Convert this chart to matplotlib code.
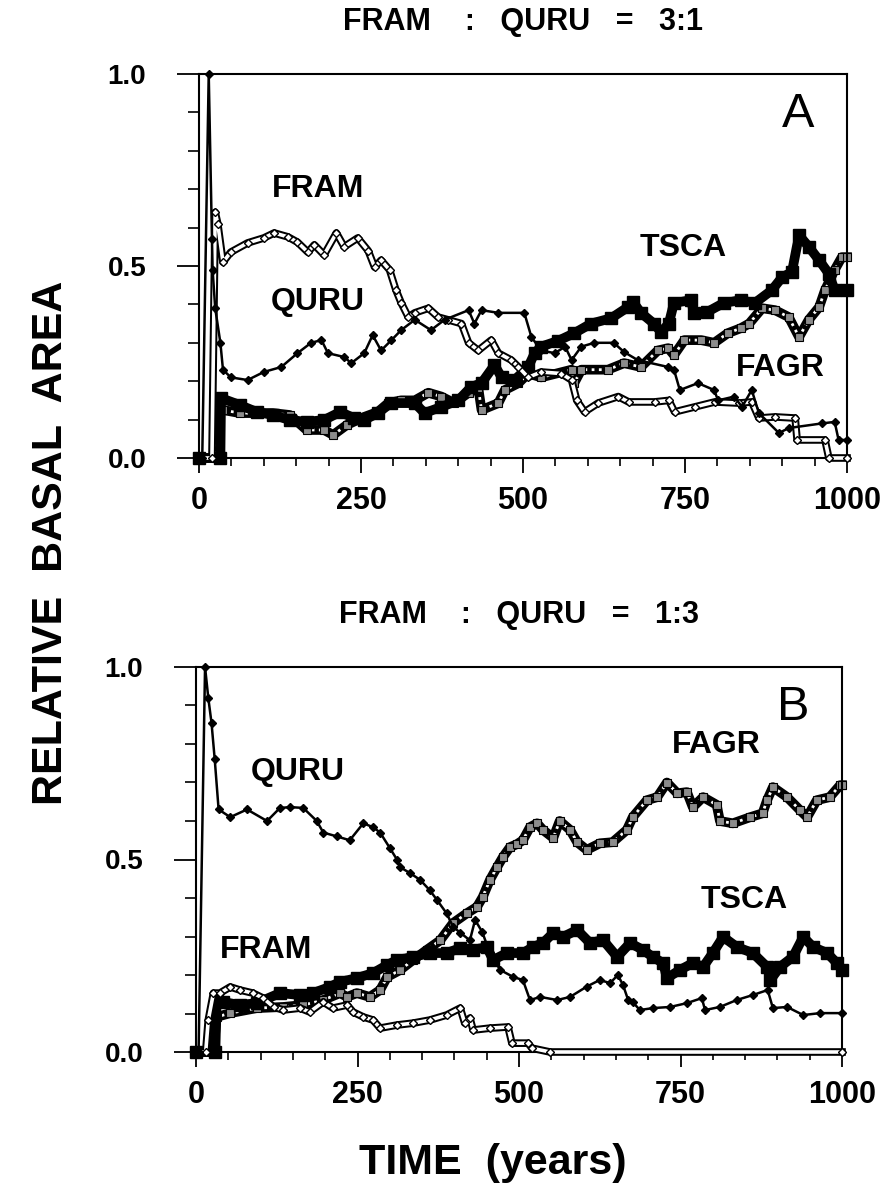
import matplotlib
matplotlib.use("Agg")
import matplotlib.pyplot as plt
from matplotlib.ticker import MultipleLocator, FormatStrFormatter

plt.rcParams['font.family'] = ['Liberation Sans', 'DejaVu Sans']
plt.rcParams['font.weight'] = 'bold'

# ---- panel A : FRAM : QURU = 3:1 ----
a_fram_t = [0, 20, 25, 29, 37, 49, 75, 100, 116, 137, 152, 168, 178, 193, 212, 224, 245, 261, 271, 281,
            294, 304, 312, 323, 333, 354, 369, 384, 405, 416, 431, 451, 462, 482, 493, 508, 528, 559, 575, 583,
            595, 616, 647, 663, 703, 725, 734, 765, 796, 833, 853, 864, 889, 920, 923, 966, 972, 1000]
a_fram_y = [0, 0, 0.64, 0.61, 0.51, 0.536, 0.56, 0.573, 0.586, 0.576, 0.562, 0.536, 0.555, 0.529, 0.586,
            0.55, 0.573, 0.54, 0.497, 0.515, 0.49, 0.437, 0.404, 0.367, 0.378, 0.39, 0.367, 0.36, 0.35, 0.30,
            0.28, 0.307, 0.273, 0.255, 0.237, 0.21, 0.224, 0.22, 0.203, 0.15, 0.12, 0.143, 0.16, 0.146, 0.146,
            0.15, 0.12, 0.133, 0.146, 0.143, 0.146, 0.104, 0.107, 0.104, 0.047, 0.047, 0.0, 0.0]

a_quru_t = [0, 5, 15, 20, 21, 25, 33, 37, 49, 75, 100, 127, 152, 173, 189, 199, 224, 235, 255, 268,
            281, 297, 312, 333, 358, 379, 416, 425, 436, 462, 502, 513, 528, 549, 565, 575, 590, 610, 640, 656,
            677, 724, 733, 742, 770, 795, 801, 826, 838, 853, 864, 895, 910, 961, 981, 987, 1000]
a_quru_y = [0, 0, 1.0, 0.57, 0.49, 0.39, 0.30, 0.23, 0.21, 0.203, 0.224, 0.237, 0.273, 0.30, 0.307,
            0.273, 0.263, 0.247, 0.273, 0.32, 0.28, 0.307, 0.333, 0.36, 0.333, 0.36, 0.385, 0.35, 0.385, 0.378,
            0.378, 0.315, 0.28, 0.273, 0.29, 0.255, 0.29, 0.30, 0.30, 0.276, 0.255, 0.237, 0.23, 0.177, 0.195,
            0.177, 0.15, 0.16, 0.133, 0.177, 0.117, 0.065, 0.078, 0.09, 0.094, 0.047, 0.047]

a_tsca_t = [0, 33, 34, 63, 89, 114, 140, 166, 193, 218, 239, 255, 276, 296, 333, 348, 374, 400, 420, 436,
            456, 467, 487, 508, 518, 528, 554, 579, 605, 636, 662, 670, 682, 702, 713, 725, 733, 759, 764, 784,
            810, 836, 858, 884, 900, 915, 926, 941, 957, 972, 981, 1000]
a_tsca_y = [0, 0, 0.156, 0.138, 0.12, 0.112, 0.099, 0.094, 0.099, 0.12, 0.104, 0.099, 0.117, 0.143, 0.143,
            0.117, 0.133, 0.15, 0.185, 0.195, 0.242, 0.21, 0.203, 0.237, 0.273, 0.29, 0.305, 0.325, 0.35, 0.364,
            0.393, 0.406, 0.378, 0.35, 0.328, 0.35, 0.404, 0.411, 0.378, 0.38, 0.404, 0.411, 0.404, 0.437,
            0.471, 0.484, 0.58, 0.55, 0.515, 0.48, 0.437, 0.437]

a_fagr_t = [0, 27, 28, 37, 63, 114, 140, 166, 193, 207, 228, 255, 276, 292, 312, 333, 354, 374, 394, 416,
            431, 436, 462, 472, 493, 508, 528, 575, 579, 590, 631, 656, 682, 708, 724, 733, 749, 775, 795, 816,
            836, 849, 869, 889, 910, 926, 941, 957, 966, 981, 992, 1000]
a_fagr_y = [0, 0, 0.125, 0.125, 0.117, 0.117, 0.112, 0.073, 0.073, 0.06, 0.086, 0.107, 0.12, 0.143, 0.15,
            0.15, 0.17, 0.16, 0.143, 0.17, 0.182, 0.125, 0.143, 0.177, 0.195, 0.22, 0.21, 0.23, 0.195, 0.23,
            0.23, 0.247, 0.237, 0.28, 0.286, 0.268, 0.307, 0.307, 0.30, 0.325, 0.338, 0.35, 0.39, 0.385, 0.367,
            0.315, 0.36, 0.393, 0.437, 0.49, 0.523, 0.523]

# ---- panel B : FRAM : QURU = 1:3 ----
b_fram_t = [0, 15, 19, 27, 37, 53, 68, 88, 104, 120, 135, 161, 176, 197, 212, 234, 243, 259, 274, 285,
            311, 336, 362, 388, 409, 416, 424, 429, 455, 483, 489, 514, 520, 548, 1000]
b_fram_y = [0, 0, 0.083, 0.153, 0.153, 0.169, 0.161, 0.153, 0.14, 0.117, 0.109, 0.114, 0.104, 0.13, 0.114,
            0.122, 0.104, 0.091, 0.083, 0.062, 0.07, 0.075, 0.083, 0.096, 0.114, 0.075, 0.088, 0.057, 0.062,
            0.065, 0.023, 0.023, 0.01, 0.0, 0.0]

b_quru_t = [0, 4, 14, 19, 24, 29, 35, 53, 79, 110, 130, 146, 166, 187, 197, 218, 238, 259, 274, 285,
            300, 311, 316, 331, 347, 362, 373, 388, 398, 409, 424, 432, 443, 455, 471, 491, 506, 517, 533, 559,
            579, 605, 625, 641, 653, 661, 669, 676, 687, 707, 734, 760, 783, 788, 811, 837, 862, 885, 893, 915,
            940, 966, 1000]
b_quru_y = [0, 0, 1.0, 0.92, 0.855, 0.76, 0.63, 0.61, 0.63, 0.60, 0.634, 0.636, 0.634, 0.60, 0.57, 0.56,
            0.55, 0.594, 0.584, 0.57, 0.53, 0.50, 0.48, 0.465, 0.447, 0.42, 0.395, 0.36, 0.325, 0.31, 0.29,
            0.343, 0.312, 0.257, 0.213, 0.195, 0.187, 0.135, 0.143, 0.135, 0.143, 0.17, 0.187, 0.179, 0.2,
            0.174, 0.135, 0.13, 0.109, 0.114, 0.117, 0.127, 0.14, 0.109, 0.117, 0.135, 0.148, 0.161, 0.114,
            0.117, 0.096, 0.101, 0.101]

b_tsca_t = [0, 30, 32, 42, 68, 94, 130, 161, 181, 207, 223, 249, 274, 296, 311, 336, 362, 388, 409, 429,
            450, 460, 481, 506, 522, 537, 553, 568, 590, 610, 630, 652, 672, 692, 707, 723, 729, 749, 769, 785,
            800, 816, 837, 862, 884, 889, 904, 924, 940, 955, 977, 992, 1000]
b_tsca_y = [0, 0, 0.143, 0.13, 0.122, 0.127, 0.153, 0.148, 0.153, 0.169, 0.182, 0.192, 0.205, 0.226, 0.239,
            0.247, 0.257, 0.257, 0.27, 0.265, 0.273, 0.239, 0.257, 0.257, 0.273, 0.283, 0.309, 0.299, 0.317,
            0.283, 0.291, 0.247, 0.283, 0.265, 0.247, 0.231, 0.192, 0.213, 0.231, 0.221, 0.257, 0.299, 0.273,
            0.257, 0.221, 0.187, 0.221, 0.247, 0.299, 0.273, 0.257, 0.231, 0.213]

b_fagr_t = [0, 27, 32, 53, 94, 135, 166, 197, 223, 234, 249, 269, 285, 296, 316, 336, 357, 378, 398, 419,
            435, 444, 455, 466, 475, 486, 497, 506, 517, 528, 537, 553, 563, 579, 590, 605, 625, 645, 667, 676,
            698, 714, 729, 745, 760, 769, 785, 806, 811, 831, 858, 877, 884, 893, 915, 935, 946, 961, 981, 997,
            1000]
b_fagr_y = [0, 0, 0.091, 0.101, 0.114, 0.117, 0.122, 0.135, 0.153, 0.143, 0.153, 0.143, 0.161, 0.195, 0.213,
            0.239, 0.265, 0.29, 0.335, 0.36, 0.377, 0.403, 0.447, 0.48, 0.506, 0.532, 0.54, 0.55, 0.584, 0.594,
            0.577, 0.556, 0.60, 0.577, 0.545, 0.525, 0.542, 0.545, 0.577, 0.61, 0.654, 0.662, 0.70, 0.672, 0.675,
            0.636, 0.662, 0.642, 0.60, 0.594, 0.61, 0.62, 0.654, 0.688, 0.662, 0.628, 0.61, 0.654, 0.662, 0.693,
            0.693]

titles = ["FRAM    :   QURU   =   3:1", "FRAM    :   QURU   =   1:3"]
letters = ["A", "B"]
# species label positions (time, value)
labels_a = {"FRAM": (184, 0.70), "QURU": (184, 0.406), "TSCA": (747, 0.547), "FAGR": (897, 0.234)}
labels_b = {"QURU": (158, 0.727), "FRAM": (108, 0.265), "FAGR": (806, 0.797), "TSCA": (848, 0.395)}


def draw_panel(ax, fram, quru, tsca, fagr, labels, letter, title):
    # FAGR: band of hatched squares
    ax.plot(fagr[0], fagr[1], color='black', lw=7, clip_on=False, zorder=2)
    ax.plot(fagr[0], fagr[1], color='white', lw=2, ls=(0, (1, 1.6)), clip_on=False, zorder=2.1)
    ax.plot(fagr[0], fagr[1], ls='none', marker='s', ms=6, mfc='0.55', mec='black', mew=0.8,
            clip_on=False, zorder=2.2)
    # TSCA: filled squares
    ax.plot(tsca[0], tsca[1], color='black', lw=7, marker='s', ms=8, mfc='black', mec='black',
            clip_on=False, zorder=3)
    # FRAM: open diamonds
    ax.plot(fram[0], fram[1], color='black', lw=5.5, clip_on=False, zorder=4)
    ax.plot(fram[0], fram[1], color='white', lw=2.6, clip_on=False, zorder=4.1)
    ax.plot(fram[0], fram[1], ls='none', marker='D', ms=4.5, mfc='white', mec='black', mew=1,
            clip_on=False, zorder=4.2)
    # QURU: small filled diamonds
    ax.plot(quru[0], quru[1], color='black', lw=1.8, marker='D', ms=4, mfc='black', mec='black',
            clip_on=False, zorder=5)

    ax.set_xlim(0, 1000)
    ax.set_ylim(0, 1.0)
    ax.xaxis.set_major_locator(MultipleLocator(250))
    ax.xaxis.set_minor_locator(MultipleLocator(50))
    ax.yaxis.set_major_locator(MultipleLocator(0.5))
    ax.yaxis.set_minor_locator(MultipleLocator(0.1))
    ax.yaxis.set_major_formatter(FormatStrFormatter('%.1f'))
    ax.tick_params(axis='x', which='major', direction='out', length=11, width=1.3, labelsize=22, pad=9)
    ax.tick_params(axis='x', which='minor', direction='out', length=6, width=1.2)
    ax.tick_params(axis='y', which='major', direction='out', length=16, width=1.3, labelsize=20, pad=22)
    ax.tick_params(axis='y', which='minor', direction='out', length=8, width=1.2)
    for lab in ax.get_xticklabels() + ax.get_yticklabels():
        lab.set_fontweight('bold')
    for sp in ax.spines.values():
        sp.set_linewidth(1.5)

    for name, (tx, ty) in labels.items():
        ax.text(tx, ty, name, fontsize=23, fontweight='bold', ha='center', va='center', zorder=6)
    ax.text(924, 0.895, letter, fontsize=35, fontweight='normal', ha='center', va='center', zorder=6)
    ax.text(500, 1.135, title, fontsize=22, fontweight='bold', ha='center', va='center',
            transform=ax.transData, clip_on=False)


fig = plt.figure(figsize=(8.84, 11.9), dpi=100)
axA = fig.add_axes([199 / 884, 1 - 458 / 1190, 648 / 884, 384 / 1190])
axB = fig.add_axes([196 / 884, 1 - 1052 / 1190, 646 / 884, 385 / 1190])

draw_panel(axA, (a_fram_t, a_fram_y), (a_quru_t, a_quru_y), (a_tsca_t, a_tsca_y), (a_fagr_t, a_fagr_y),
           labels_a, letters[0], titles[0])
draw_panel(axB, (b_fram_t, b_fram_y), (b_quru_t, b_quru_y), (b_tsca_t, b_tsca_y), (b_fagr_t, b_fagr_y),
           labels_b, letters[1], titles[1])

fig.text(51 / 884, 1 - 543 / 1190, "RELATIVE  BASAL  AREA", rotation=90, fontsize=31,
         fontweight='bold', ha='center', va='center')
fig.text(493 / 884, 1 - 1163 / 1190, "TIME  (years)", fontsize=31, fontweight='bold',
         ha='center', va='center')

fig.savefig("out.png", dpi=100)
